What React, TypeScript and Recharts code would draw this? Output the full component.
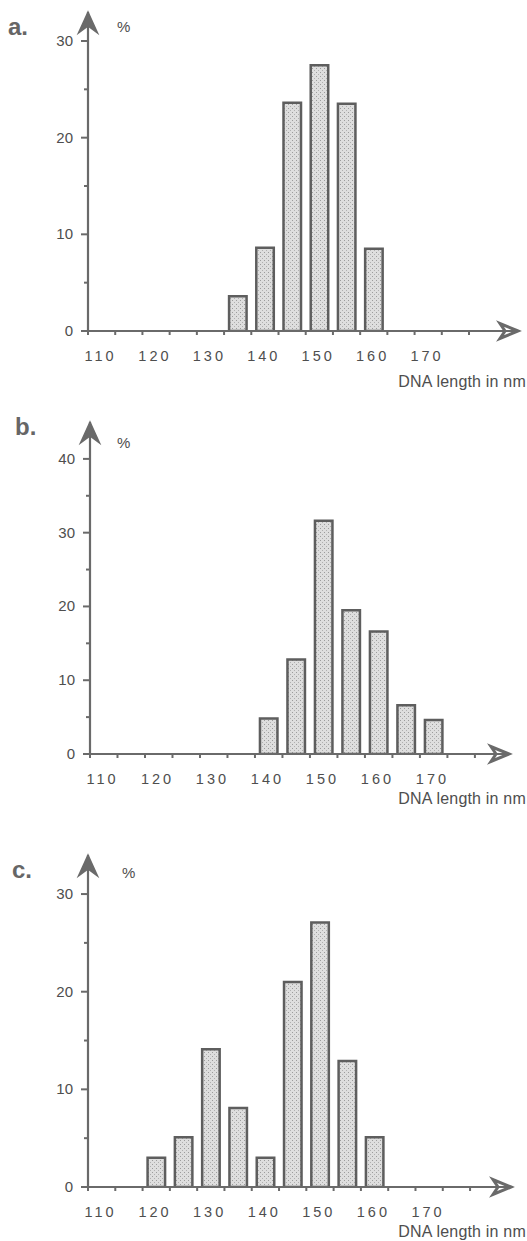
import { Bar, BarChart, ReferenceDot, XAxis, YAxis } from "recharts";

// 5 nm bins, value = % of molecules in [start, start + 5)
const binStarts = [110, 115, 120, 125, 130, 135, 140, 145, 150, 155, 160, 165, 170, 175];
const percentA = [0, 0, 0, 0, 0, 3.6, 8.6, 23.6, 27.5, 23.5, 8.5, 0, 0, 0];
const percentB = [0, 0, 0, 0, 0, 0, 4.8, 12.8, 31.6, 19.5, 16.6, 6.6, 4.6, 0];
const percentC = [0, 0, 3.0, 5.1, 14.1, 8.1, 3.0, 21.0, 27.1, 12.9, 5.1, 0, 0, 0];

const xTicks = [110, 115, 120, 125, 130, 135, 140, 145, 150, 155, 160, 165, 170, 175, 180];
const xTickLabels = [110, 120, 130, 140, 150, 160, 170];
const yTicksA = [0, 5, 10, 15, 20, 25, 30];
const yTicksB = [0, 5, 10, 15, 20, 25, 30, 35, 40];
const yTicksC = [0, 5, 10, 15, 20, 25, 30];
const yTickLabels = [0, 10, 20, 30, 40];

const AXIS = "#6a6a6a";
const TEXT = "#4e4e4e";
const FONT = "'Liberation Sans', Arial, sans-serif";

const panels = [
  { letter: "a.", values: percentA, yTicks: yTicksA, yMax: 33, xMax: 189, height: 400, marginTop: 12, marginRight: 9, axisX: 88, xAxisHeight: 69, letterX: 8, letterY: 35, pctX: 117, pctY: 32, titleY: 387 },
  { letter: "b.", values: percentB, yTicks: yTicksB, yMax: 45, xMax: 186.2, height: 420, marginTop: 22, marginRight: 18, axisX: 90, xAxisHeight: 66, letterX: 15, letterY: 35, pctX: 117, pctY: 48, titleY: 404 },
  { letter: "c.", values: percentC, yTicks: yTicksC, yMax: 34, xMax: 187.5, height: 421, marginTop: 35, marginRight: 16, axisX: 88, xAxisHeight: 54, letterX: 12, letterY: 58, pctX: 122, pctY: 58, titleY: 417 },
];

const XTick = (props: any) => {
  const { x, y, payload } = props;
  const v = payload.value;
  return (
    <g>
      <line x1={x} y1={y} x2={x} y2={y + 4} stroke={AXIS} strokeWidth={2} />
      {xTickLabels.includes(v) && (
        <text x={x + 12.5} y={y + 30} textAnchor="middle" fontSize={14.5} letterSpacing={3} fill={TEXT} fontFamily={FONT}>
          {v}
        </text>
      )}
    </g>
  );
};

const YTick = (props: any) => {
  const { x, y, payload } = props;
  const v = payload.value;
  const major = yTickLabels.includes(v);
  return (
    <g>
      <line x1={x - (major ? 7 : 4)} y1={y} x2={x} y2={y} stroke={AXIS} strokeWidth={2} />
      {major && (
        <text x={x - 15} y={y + 5} textAnchor="end" fontSize={15} fill={TEXT} fontFamily={FONT}>
          {v}
        </text>
      )}
    </g>
  );
};

const XArrow = (props: any) => {
  const { cx, cy } = props;
  return (
    <polygon
      points={`${cx},${cy} ${cx - 18},${cy - 7.5} ${cx - 13},${cy} ${cx - 18},${cy + 7.5}`}
      fill="none"
      stroke={AXIS}
      strokeWidth={3}
    />
  );
};

const YArrow = (props: any) => {
  const { cx, cy } = props;
  return (
    <polygon
      points={`${cx},${cy} ${cx - 9.5},${cy + 21} ${cx},${cy + 14} ${cx + 9.5},${cy + 21}`}
      fill={AXIS}
      stroke={AXIS}
      strokeWidth={1.5}
    />
  );
};

const Panel = ({ p }: { p: (typeof panels)[number] }) => {
  const rows = binStarts.map((start, i) => ({ mid: start + 2.5, pct: p.values[i] }));
  return (
    <BarChart
      width={527}
      height={p.height}
      data={rows}
      margin={{ top: p.marginTop, right: p.marginRight, left: 0, bottom: 0 }}
    >
      <XAxis
        dataKey="mid"
        type="number"
        domain={[110, p.xMax]}
        ticks={xTicks}
        interval={0}
        allowDataOverflow
        tick={<XTick />}
        tickLine={false}
        tickSize={0}
        tickMargin={0}
        height={p.xAxisHeight}
        axisLine={{ stroke: AXIS, strokeWidth: 2.2 }}
      />
      <YAxis
        type="number"
        domain={[0, p.yMax]}
        ticks={p.yTicks}
        interval={0}
        allowDataOverflow
        tick={<YTick />}
        tickLine={false}
        tickSize={0}
        tickMargin={0}
        width={p.axisX}
        axisLine={{ stroke: AXIS, strokeWidth: 2.2 }}
      />
      <Bar
        dataKey="pct"
        barSize={17.5}
        fill="url(#stipple)"
        stroke="#5e5e5e"
        strokeWidth={2.5}
        isAnimationActive={false}
      />
      <ReferenceDot x={p.xMax} y={0} r={1} ifOverflow="visible" shape={XArrow} />
      <ReferenceDot x={110} y={p.yMax} r={1} ifOverflow="visible" shape={YArrow} />
      <text x={p.letterX} y={p.letterY} fontSize={24} fontWeight="bold" fill="#666" fontFamily={FONT}>
        {p.letter}
      </text>
      <text x={p.pctX} y={p.pctY} fontSize={15} fill={TEXT} fontFamily={FONT}>
        %
      </text>
      <text x={526} y={p.titleY} textAnchor="end" fontSize={16} letterSpacing={0.2} fill={TEXT} fontFamily={FONT}>
        DNA length in nm
      </text>
    </BarChart>
  );
};

export default function App() {
  return (
    <div style={{ position: "absolute", left: 0, top: 0, width: 527, height: 1241, background: "#fff", fontFamily: FONT }}>
      <svg width={0} height={0} style={{ position: "absolute" }}>
        <defs>
          <pattern id="stipple" width={4} height={4} patternUnits="userSpaceOnUse">
            <rect width={4} height={4} fill="#dedede" />
            <rect x={0} y={0} width={1} height={1} fill="#9c9c9c" />
            <rect x={2} y={2} width={1} height={1} fill="#b0b0b0" />
          </pattern>
        </defs>
      </svg>
      {panels.map((p) => (
        <Panel key={p.letter} p={p} />
      ))}
    </div>
  );
}
